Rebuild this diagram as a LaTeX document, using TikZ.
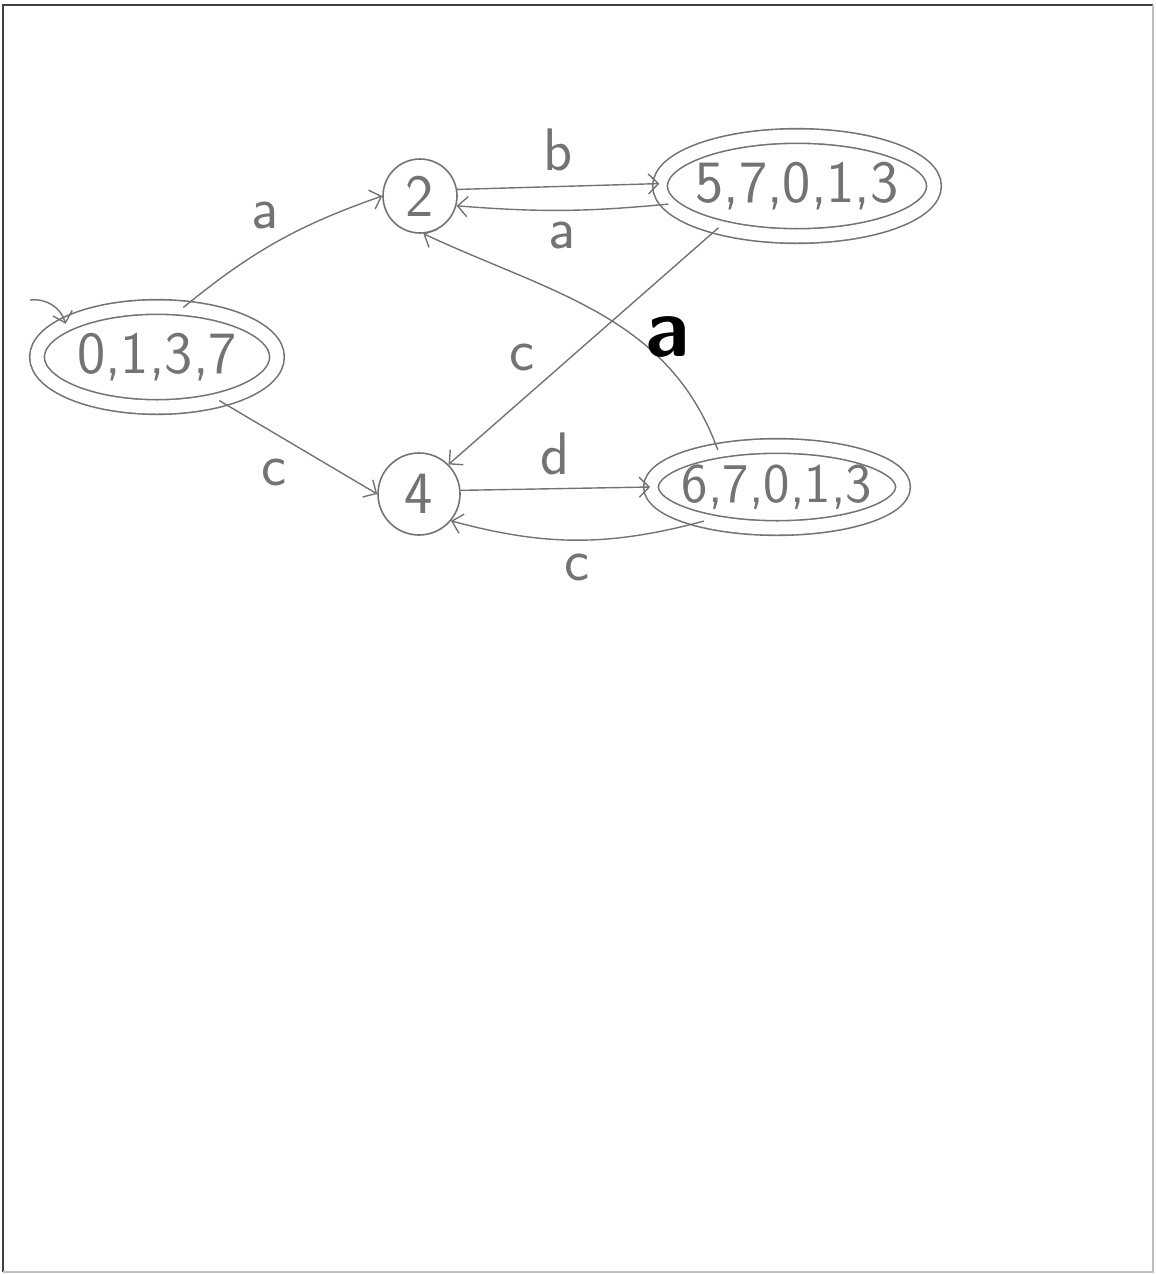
\documentclass[tikz,border=0pt]{standalone}
\usepackage{amsmath, amssymb}
\usepackage{xcolor}
\usepackage{tikz}
\usetikzlibrary{shapes,arrows,arrows.meta,shapes.geometric}

\definecolor{pencil}{RGB}{115,115,115}
\tikzset{
  state/.style={circle,draw=pencil,line width=0.8pt,text=pencil,font=\sffamily\fontsize{30}{30}\selectfont},
  accept/.style={ellipse,draw=pencil,double,double distance=6.5pt,line width=0.8pt,text=pencil,inner xsep=-10pt,inner ysep=-4pt,font=\sffamily\fontsize{30}{30}\selectfont},
  trans/.style={draw=pencil,line width=0.7pt,-{Straight Barb[length=5pt,width=10pt]}},
  lbl/.style={text=pencil,font=\sffamily\fontsize{30}{30}\selectfont}
}

\begin{document}
\begin{tikzpicture}[x=0.5pt,y=-0.5pt]
    \useasboundingbox (0,0) rectangle (1156,1274);
    % page frame
    \draw[black!75,line width=1pt] (3,1272) -- (3,5) -- (1153,5);
    \draw[black!25,line width=1pt] (3,1272) -- (1153,1272) -- (1153,5);

    \node[accept,minimum width=120pt,minimum height=50pt] (q0) at (157,357) {0,1,3,7};
    \node[state,minimum size=37pt] (q2) at (420,196) {2};
    \node[state,minimum size=41pt] (q4) at (419,494) {4};
    \node[accept,minimum width=137pt,minimum height=50pt] (q5) at (797,186) {5,7,0,1,3};
    \node[accept,minimum width=126pt,minimum height=41pt,font=\sffamily\fontsize{28}{28}\selectfont] (q6) at (777,487) {6,7,0,1,3};

    \coordinate (init) at (30,300);
    \draw[trans] (init) to[bend left=40] (q0.160);

    \draw[trans] (q0.62) to[bend left=10] node[lbl,pos=0.55,above left=0pt] (la1) {a} (q2.west);
    \draw[trans] (q0.-35) -- node[lbl,below left=2pt] (lc1) {c} (q4.west);
    \draw[trans] (q2.10) -- node[lbl,above=4pt] (lb) {b} (q5.179);
    \draw[trans] (q5.188) to[bend left=5] node[lbl,below=2pt] (la2) {a} (q2.-15);
    \draw[trans] (q5.208) -- node[lbl,left=14pt,pos=0.55] (lc2) {c} (q4.45);
    \draw[trans] (q6.148) to[out=110,in=-25] node[pos=0.38,right=1pt,font=\sffamily\bfseries\fontsize{42}{42}\selectfont] (la3) {a} (q2.-85);
    \draw[trans] (q4.5) -- node[lbl,above=3pt] (ld) {d} (q6.west);
    \draw[trans] (q6.205) to[bend left=15] node[lbl,below=3pt] (lc3) {c} (q4.-40);
\end{tikzpicture}
\end{document}
